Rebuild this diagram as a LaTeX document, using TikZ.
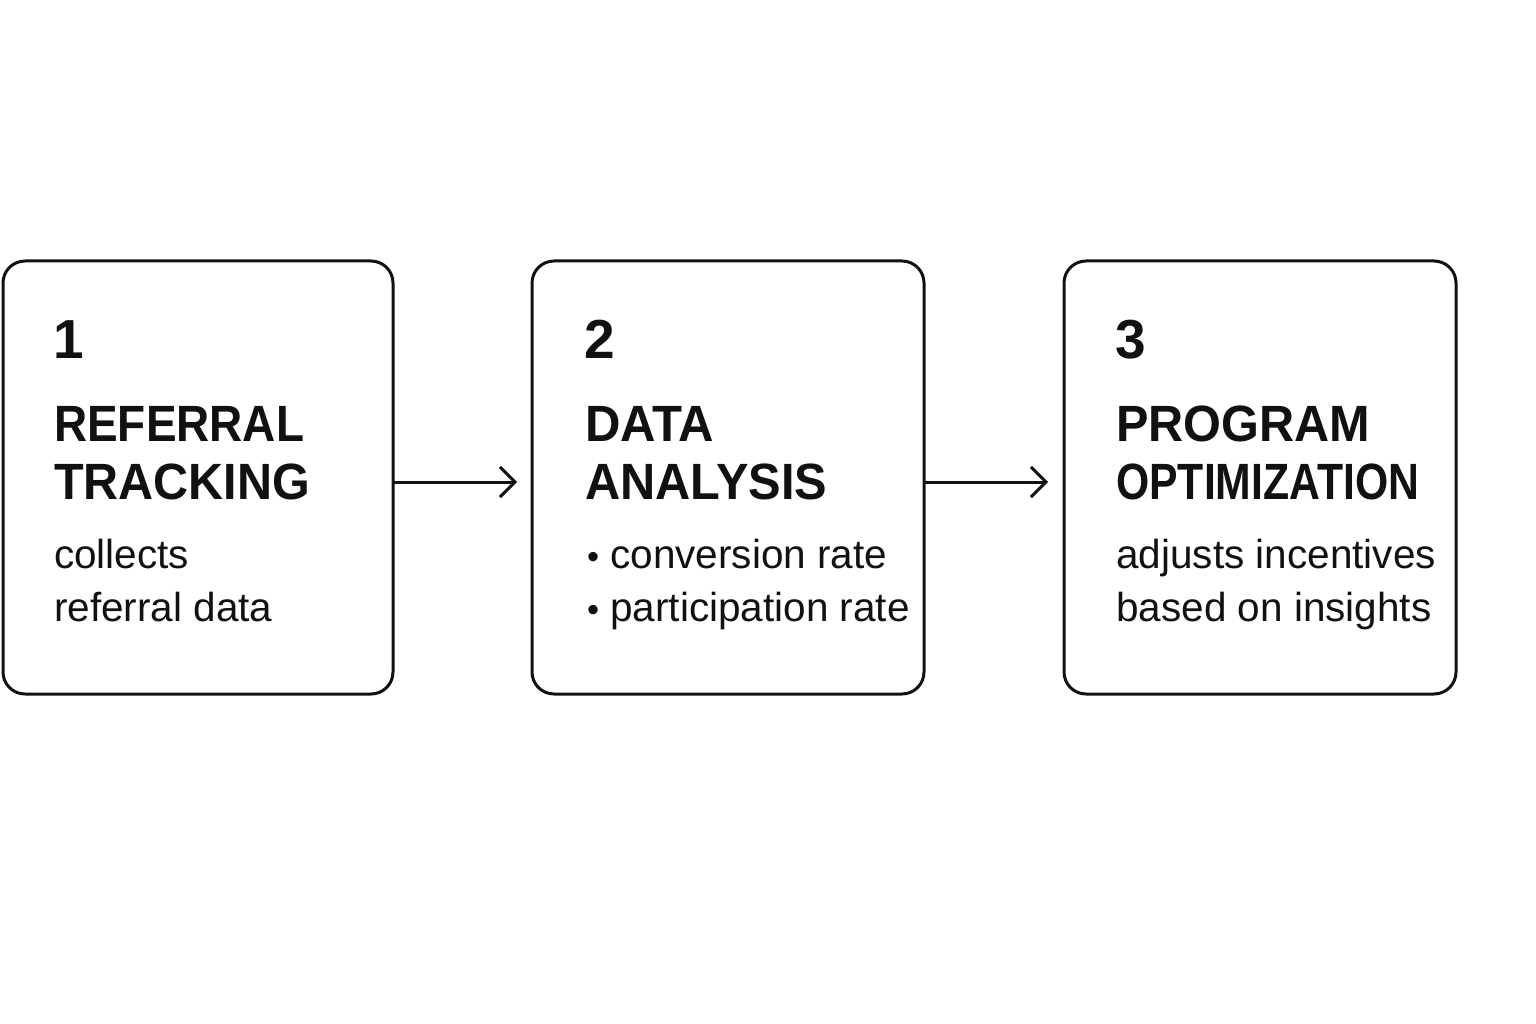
\documentclass[tikz,border=0pt]{standalone}
\usepackage{graphicx}
\usepackage{fontspec}
\setmainfont{Liberation Sans}
\usetikzlibrary{arrows.meta}
\definecolor{ink}{HTML}{111111}
\newcommand{\fitw}[2]{\resizebox{#1pt}{\height}{#2}}
\begin{document}
\begin{tikzpicture}[x=1pt,y=-1pt,
  stepbox/.style={draw=ink,line width=3pt,rounded corners=22pt},
  numtxt/.style={anchor=base west,inner sep=0pt,text=ink,font=\fontsize{55}{60}\selectfont\bfseries},
  headtxt/.style={anchor=base west,inner sep=0pt,text=ink,font=\fontsize{51}{56}\selectfont\bfseries},
  bodytxt/.style={anchor=base west,inner sep=0pt,text=ink,font=\fontsize{40.5}{45}\selectfont},
  flow/.style={draw=ink,line width=3pt,-{Straight Barb[length=15pt,width=30pt,line width=3pt]}}]
\useasboundingbox (0,0) rectangle (1536,1024);
\fill[white] (0,0) rectangle (1536,1024);
% boxes
\draw[stepbox] (3,261) rectangle (393,694);
\draw[stepbox] (532,261) rectangle (924,694);
\draw[stepbox] (1064,261) rectangle (1456,694);
\coordinate (b1e) at (393,482);
\coordinate (b2w) at (517,482);
\coordinate (b2e) at (924,482);
\coordinate (b3w) at (1048,482);
\draw[flow] (b1e) -- (b2w);
\draw[flow] (b2e) -- (b3w);
% box 1
\node[numtxt] (n1) at (53,358) {1};
\node[headtxt] (h1a) at (54,441) {\fitw{250}{REFERRAL}};
\node[headtxt] (h1b) at (54,499) {\fitw{256}{TRACKING}};
\node[bodytxt] (t1a) at (54,568) {collects};
\node[bodytxt] (t1b) at (54,621) {referral data};
% box 2
\node[numtxt] (n2) at (584,358) {2};
\node[headtxt] (h2a) at (585,441) {\fitw{129}{DATA}};
\node[headtxt] (h2b) at (585,499) {\fitw{242}{ANALYSIS}};
\node[bodytxt] (t2a) at (587,568) {\scalebox{0.85}{•}\hspace{11pt}conversion rate};
\node[bodytxt] (t2b) at (587,621) {\scalebox{0.85}{•}\hspace{11pt}participation rate};
% box 3
\node[numtxt] (n3) at (1115,358) {3};
\node[headtxt] (h3a) at (1116,441) {\fitw{254}{PROGRAM}};
\node[headtxt] (h3b) at (1116,499) {\fitw{303}{OPTIMIZATION}};
\node[bodytxt] (t3a) at (1116,568) {adjusts incentives};
\node[bodytxt] (t3b) at (1116,621) {based on insights};
\end{tikzpicture}
\end{document}
